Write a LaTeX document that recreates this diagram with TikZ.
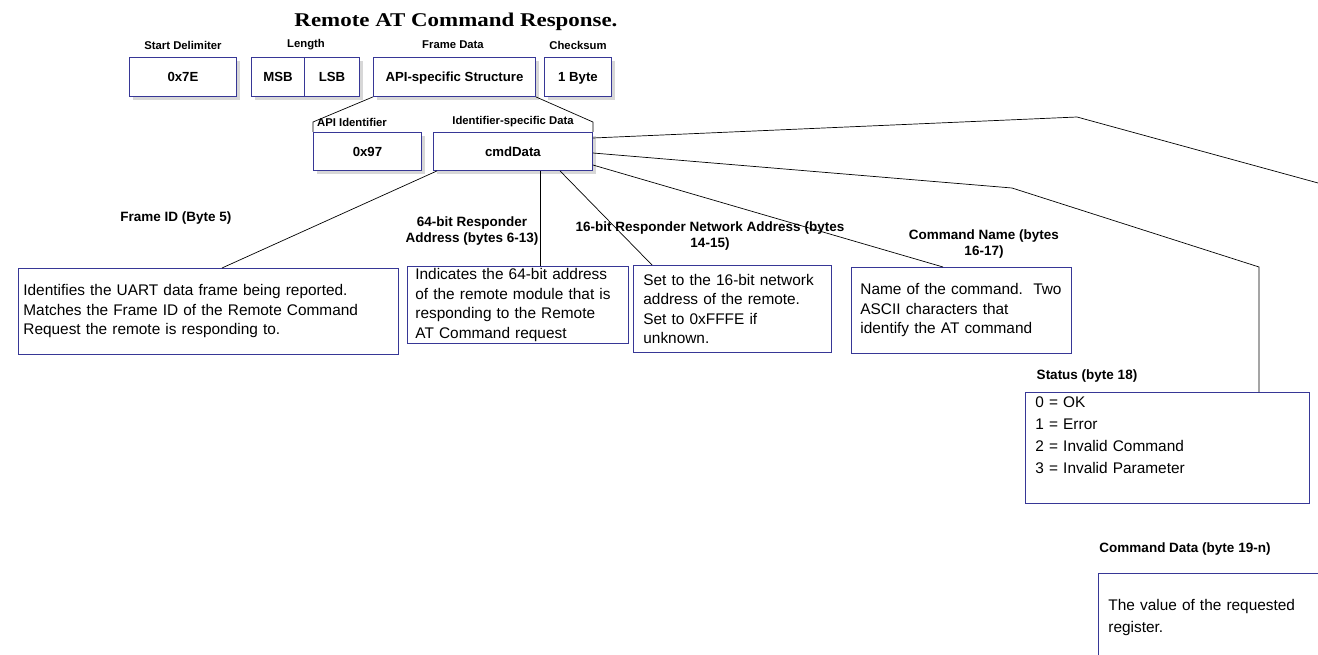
\documentclass[tikz,border=0pt]{standalone}
\usepackage{fontspec}
\usepackage{graphicx}
\setmainfont{Liberation Sans}
\newfontfamily\titlefont{Liberation Serif}
\usetikzlibrary{shadows,calc}
\definecolor{boxblue}{RGB}{55,55,150}
\definecolor{shadowgray}{RGB}{215,215,215}
\begin{document}
\begin{tikzpicture}[x=1pt,y=-1pt,
  fbox/.style={draw=boxblue, line width=0.9pt, fill=white, anchor=north west, inner sep=0pt,
    font=\bfseries\fontsize{13.2}{15}\selectfont, text height=9.5pt, text depth=0pt,
    drop shadow={shadow xshift=4pt, shadow yshift=-4pt, fill=shadowgray, opacity=1}},
  lbl/.style={font=\bfseries\fontsize{11.3}{16}\selectfont, inner sep=0pt},
  biglbl/.style={font=\bfseries\fontsize{13.5}{16}\selectfont, inner sep=0pt},
  desc/.style={draw=boxblue, line width=0.8pt, anchor=north west, align=left,
    font=\fontsize{15.4}{19.5}\selectfont, inner xsep=8pt, inner ysep=0pt},
  conn/.style={line width=0.7pt, black}]
\useasboundingbox (0,0) rectangle (1318,655);
\clip (0,0) rectangle (1318,655);

% title
\node[inner sep=0pt] (title) at (456,22) {\titlefont\resizebox{323pt}{13.5pt}{\bfseries Remote AT Command Response.}};

% frame boxes
\node[fbox, minimum width=107pt, minimum height=39pt] (sd) at (129,57) {0x7E};
\node[fbox, minimum width=53pt, minimum height=39pt] (msb) at (251,57) {MSB};
\node[fbox, minimum width=55pt, minimum height=39pt] (lsb) at (304,57) {LSB};
\node[fbox, minimum width=162pt, minimum height=39pt] (api) at (373,57) {API-specific Structure};
\node[fbox, minimum width=67pt, minimum height=39pt] (cks) at (544,57) {1 Byte};
\node[fbox, minimum width=108pt, minimum height=38pt] (apiid) at (313,132) {0x97};
\node[fbox, minimum width=159pt, minimum height=38pt] (cmd) at (433,132) {cmdData};

% labels
\node[lbl] (lsd) at (183,45) {Start Delimiter};
\node[lbl] (llen) at (306,45) {Length};
\node[lbl] (lfd) at (453,45) {Frame Data};
\node[lbl] (lck) at (578,45) {Checksum};
\node[lbl] (lapi) at (352,122) {API Identifier};
\node[lbl] (lisd) at (513,122) {Identifier-specific Data};
\node[biglbl] (lfid) at (176,218) {Frame ID (Byte 5)};
\node[biglbl, align=center] (l64) at (472,231) {64-bit Responder\\Address (bytes 6-13)};
\node[biglbl, align=center] (l16) at (710,236) {16-bit Responder Network Address (bytes\\14-15)};
\node[biglbl, align=center] (lcn) at (984,244) {Command Name (bytes\\16-17)};
\node[biglbl] (lst) at (1087,376) {Status (byte 18)};
\node[biglbl] (lcd) at (1185,549) {Command Data (byte 19-n)};

% description boxes
\node[desc, inner xsep=5pt, minimum width=380pt, minimum height=86pt, text width=370pt] (fid) at (18,268)
  {Identifies the UART data frame being reported.\\Matches the Frame ID of the Remote Command\\Request the remote is responding to.};
\node[desc, minimum width=221pt, minimum height=77pt, text width=205pt] (a64) at (407,266)
  {Indicates the 64-bit address\\of the remote module that is\\responding to the Remote\\AT Command request};
\node[desc, inner xsep=10pt, minimum width=198pt, minimum height=87pt, text width=178pt] (a16) at (633,265)
  {Set to the 16-bit network\\address of the remote.\\Set to 0xFFFE if\\unknown.};
\node[desc, inner xsep=9pt, minimum width=220pt, minimum height=86pt, text width=202pt] (cn) at (851,267)
  {Name of the command.\ \ Two\\ASCII characters that\\identify the AT command};
\node[desc, inner xsep=10pt, minimum width=284pt, minimum height=111pt, text width=264pt,
  font=\fontsize{15.4}{22}\selectfont] (st) at (1025,392)
  {\raisebox{-3pt}{0 = OK}\\\raisebox{-3pt}{1 = Error}\\\raisebox{-3pt}{2 = Invalid Command}\\\raisebox{-3pt}{3 = Invalid Parameter}\\\strut};
\node[desc, inner xsep=10pt, minimum width=240pt, minimum height=86pt, text width=220pt,
  font=\fontsize{15.4}{22}\selectfont] (cd) at (1098,573)
  {\strut\\The value of the requested\\register.\\\strut};

% connectors
\coordinate (b1) at (1012,188);
\coordinate (b2) at (1259,267);
\coordinate (b3) at (1077,117);
\coordinate (b4) at (1340,189);
\draw[conn] (api.south west) -- (apiid.north west |- lapi) -- (apiid.north west);
\draw[conn] (api.south east) -- (cmd.north east |- lisd) -- (cmd.north east);
\draw[conn] ($(cmd.south west)+(4,0)$) -- ($(fid.north west)+(204,0)$);
\draw[conn] ($(cmd.south west)+(107,0)$) -- ($(a64.north west)+(133,0)$);
\draw[conn] ($(cmd.south west)+(127,0)$) -- ($(a16.north west)+(19,0)$);
\draw[conn] ($(cmd.north east)+(0,33)$) -- ($(cn.north west)+(92,0)$);
\draw[conn] ($(cmd.north east)+(0,21)$) -- (b1) -- (b2) -- (b2 |- st.north);
\draw[conn] ($(cmd.north east)+(0,6)$) -- (b3) -- (b4);
\end{tikzpicture}
\end{document}
